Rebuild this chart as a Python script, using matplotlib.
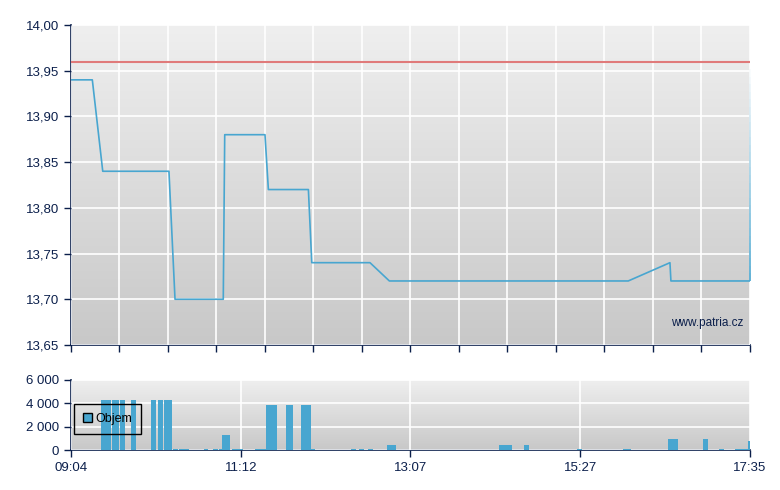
import numpy as np
import matplotlib
matplotlib.use("Agg")
import matplotlib.pyplot as plt
from matplotlib.collections import LineCollection
from matplotlib.patches import Patch
from matplotlib.ticker import FuncFormatter

plt.rcParams['font.family'] = ['Liberation Sans', 'DejaVu Sans']

# x positions are session slots (0 = 09:04, 28 = 17:35)
price_x = [0, 0.88, 1.31, 4.04, 4.29, 6.28, 6.34, 8.0, 8.14, 9.79, 9.93,
           12.33, 13.13, 22.98, 24.70, 24.74, 27.97]
price_y = [13.94, 13.94, 13.84, 13.84, 13.70, 13.70, 13.88, 13.88, 13.82,
           13.82, 13.74, 13.74, 13.72, 13.72, 13.74, 13.72, 13.72]
last_price = 13.96
prev_close = 13.96

vol_left = [1.24, 1.69, 2.02, 2.47, 3.31, 3.59, 3.84, 4.21, 4.45, 5.48, 5.86,
            6.10, 6.23, 6.64, 7.59, 8.04, 8.87, 9.48, 9.88, 11.55, 11.88,
            12.25, 13.03, 17.65, 18.68, 20.85, 22.76, 24.62, 26.06, 26.72,
            27.38, 27.92]
vol_width = [0.41, 0.29, 0.21, 0.21, 0.19, 0.19, 0.32, 0.21, 0.40, 0.19, 0.21,
             0.11, 0.32, 0.44, 0.44, 0.45, 0.28, 0.40, 0.18, 0.19, 0.21,
             0.19, 0.36, 0.52, 0.21, 0.21, 0.32, 0.40, 0.19, 0.21,
             0.54, 0.08]
vol_val = [4300, 4300, 4300, 4300, 4300, 4300, 4300, 90, 90, 90, 90,
           90, 1300, 90, 90, 3900, 3900, 3900, 90, 90, 90,
           90, 450, 450, 450, 90, 90, 950, 950, 90,
           90, 770]

time_pos = [0, 7, 14, 21, 28]
time_labels = ['09:04', '11:12', '13:07', '15:27', '17:35']

navy = '#0b1f4b'
blue = '#48a6d0'

fig = plt.figure(figsize=(7.8, 4.9), dpi=100)
ax1 = fig.add_axes([0.091, 0.296, 0.8705, 0.653])
ax2 = fig.add_axes([0.091, 0.0816, 0.8705, 0.1429])


def style(ax):
    grad = np.linspace(0, 1, 256).reshape(-1, 1)
    ax.imshow(grad, extent=[0, 1, 0, 1], transform=ax.transAxes, aspect='auto',
              cmap=matplotlib.colors.LinearSegmentedColormap.from_list('g', ['#c8c8c8', '#efefef']),
              origin='lower', zorder=0)
    for s in ['top', 'right']:
        ax.spines[s].set_visible(False)
    for s in ['left', 'bottom']:
        ax.spines[s].set_color(navy)
        ax.spines[s].set_linewidth(1.2)
    ax.tick_params(colors=navy, labelcolor=navy, labelsize=9.5, length=5, width=1)
    ax.grid(True, color='white', linewidth=1.2, zorder=1)
    ax.set_axisbelow(False)
    ax.set_xlim(0, 28)


style(ax1)
ax1.set_ylim(13.65, 14.00)
ax1.set_yticks(np.arange(13.65, 14.001, 0.05))
ax1.yaxis.set_major_formatter(FuncFormatter(lambda v, p: f'{v:.2f}'.replace('.', ',')))
ax1.set_xticks(np.arange(0, 29, 2))
ax1.set_xticklabels([])
ax1.axhline(prev_close, color='#e07a7a', linewidth=1.5, zorder=3)
ax1.plot(price_x, price_y, color=blue, linewidth=1.2, zorder=4)
# last jump fades out towards the top
ys = np.linspace(price_y[-1], last_price, 30)
segs = [[(28, ys[i]), (28, ys[i + 1])] for i in range(len(ys) - 1)]
alphas = np.linspace(1, 0, len(segs))
cols = [matplotlib.colors.to_rgba(blue, a) for a in alphas]
ax1.add_collection(LineCollection(segs, colors=cols, linewidths=1.2, zorder=4, clip_on=False))
ax1.text(0.99, 0.07, 'www.patria.cz', transform=ax1.transAxes, ha='right', va='center',
         fontsize=8.5, color=navy, zorder=5)

style(ax2)
ax2.set_ylim(0, 6000)
ax2.set_yticks([0, 2000, 4000, 6000])
ax2.yaxis.set_major_formatter(FuncFormatter(lambda v, p: f'{int(v):,}'.replace(',', ' ')))
ax2.set_xticks(time_pos)
ax2.set_xticklabels(time_labels)
ax2.bar(vol_left, vol_val, width=vol_width, align='edge', color=blue, zorder=3)
leg = ax2.legend(handles=[Patch(facecolor=blue, edgecolor='black', label='Objem')],
                 loc='center left', bbox_to_anchor=(0.005, 0.44), fancybox=False,
                 facecolor='none', edgecolor='black', fontsize=9, handlelength=0.7,
                 handleheight=0.7, handletextpad=0.3, borderpad=0.7, borderaxespad=0)
leg.get_frame().set_linewidth(1.0)
leg.get_frame().set_alpha(None)
leg.set_zorder(6)

fig.savefig('out.png', dpi=100)
